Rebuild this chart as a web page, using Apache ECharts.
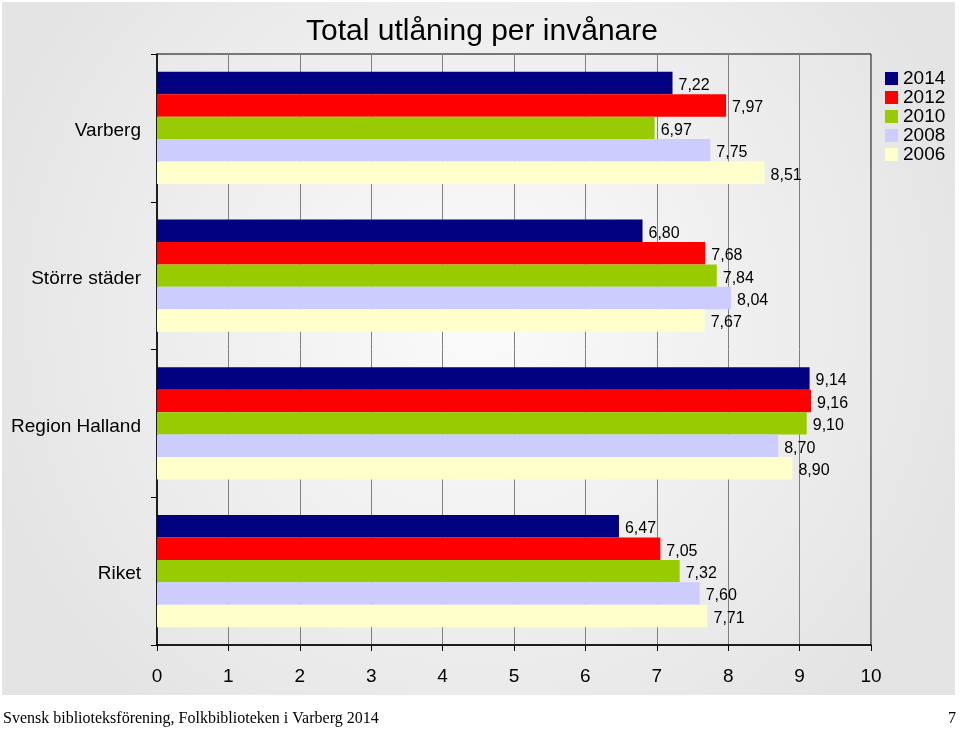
<!DOCTYPE html>
<html><head><meta charset="utf-8">
<script src="https://cdn.jsdelivr.net/npm/echarts@6/dist/echarts.min.js"></script>
<style>html,body{margin:0;padding:0;background:#fff}#c{width:960px;height:730px}</style>
</head><body><div id="c"></div>
<script>
const categories = ['Varberg', 'Större städer', 'Region Halland', 'Riket'];
const seriesNames = ['2014', '2012', '2010', '2008', '2006'];
const v2014 = [7.22, 6.80, 9.14, 6.47];
const v2012 = [7.97, 7.68, 9.16, 7.05];
const v2010 = [6.97, 7.84, 9.10, 7.32];
const v2008 = [7.75, 8.04, 8.70, 7.60];
const v2006 = [8.51, 7.67, 8.90, 7.71];
const xTicks = [0, 1, 2, 3, 4, 5, 6, 7, 8, 9, 10];
const colors = ['#000080', '#ff0000', '#99cc00', '#ccccff', '#ffffcc'];
const values = [v2014, v2012, v2010, v2008, v2006];
const FONT = 'Liberation Sans, Arial, sans-serif';

const chart = echarts.init(document.getElementById('c'));
chart.setOption({
  backgroundColor: '#ffffff',
  animation: false,
  textStyle: { fontFamily: FONT },
  title: {
    text: 'Total utlåning per invånare',
    left: 477, top: 12, textAlign: 'center',
    textStyle: { fontFamily: FONT, fontSize: 30, fontWeight: 'normal', color: '#000' }
  },
  legend: {
    data: seriesNames,
    orient: 'vertical',
    left: 885, top: 69, padding: 0,
    itemWidth: 13, itemHeight: 13, itemGap: 0,
    icon: 'rect',
    textStyle: { fontFamily: FONT, fontSize: 19, color: '#000', lineHeight: 19 }
  },
  graphic: {
    elements: [
      { type: 'rect', z: -100, silent: true,
        shape: { x: 2, y: 2, width: 953, height: 693 },
        style: { fill: { type: 'radial', x: 0.5, y: 0.45, r: 0.75,
          colorStops: [{ offset: 0, color: '#fbfbfb' }, { offset: 1, color: '#e4e4e4' }] } } },
      { type: 'text', left: 3, top: 711,
        style: { text: 'Svensk biblioteksförening, Folkbiblioteken i Varberg 2014',
          font: '16px "Liberation Serif", "Times New Roman", serif', fill: '#000' } },
      { type: 'text', right: 4, top: 711,
        style: { text: '7', font: '16px "Liberation Serif", "Times New Roman", serif', fill: '#000' } }
    ]
  },
  grid: { left: 157, top: 54, width: 714, height: 591, show: true, borderColor: '#000', borderWidth: 1, backgroundColor: 'transparent' },
  xAxis: {
    type: 'value', min: 0, max: 10, interval: 1,
    axisLine: { show: true, lineStyle: { color: '#000', width: 1.5 } },
    axisTick: { show: true, length: 6, lineStyle: { color: '#000' } },
    axisLabel: { fontFamily: FONT, fontSize: 19, color: '#000', margin: 22,
      formatter: v => String(v) },
    splitLine: { show: true, lineStyle: { color: '#808080', width: 1 } }
  },
  yAxis: {
    type: 'category', data: categories, inverse: true,
    axisLine: { show: true, lineStyle: { color: '#000', width: 1.5 } },
    axisTick: { show: true, length: 6, lineStyle: { color: '#000' } },
    axisLabel: { fontFamily: FONT, fontSize: 19, color: '#000', margin: 16,
      formatter: v => '{a|' + v + '}',
      rich: { a: { fontFamily: FONT, fontSize: 19, color: '#000', padding: [6, 0, 0, 0] } } },
    splitLine: { show: false }
  },
  series: seriesNames.map((name, i) => ({
    name, type: 'bar', data: values[i],
    barGap: '0%', barCategoryGap: '24%',
    itemStyle: { color: colors[i] },
    label: { show: true, position: 'right', distance: 6,
      formatter: p => '{a|' + p.value.toFixed(2).replace('.', ',') + '}',
      rich: { a: { fontFamily: FONT, fontSize: 16, color: '#000', padding: [5, 0, 0, 0] } } }
  }))
});
</script></body></html>
